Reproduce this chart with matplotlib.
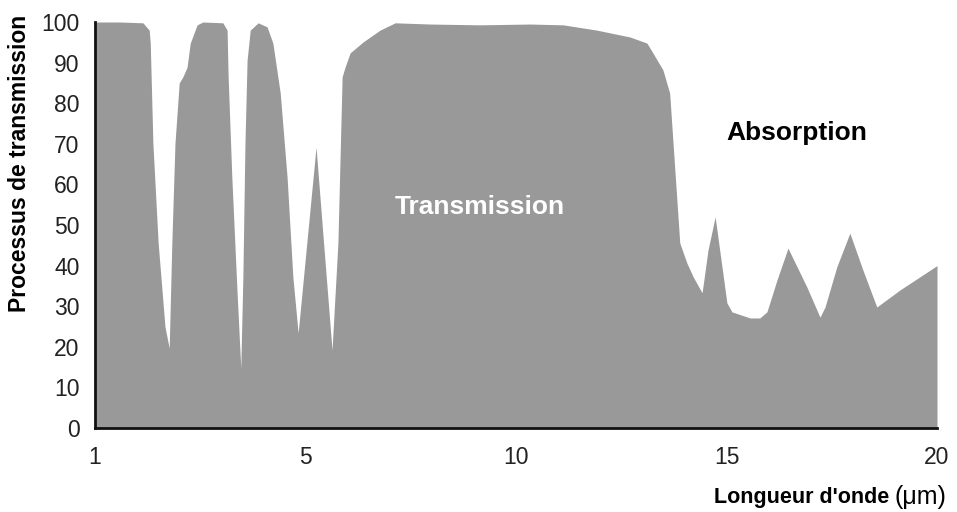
import matplotlib
matplotlib.use("Agg")
import matplotlib.pyplot as plt
import numpy as np

plt.rcParams['font.family'] = ['Liberation Sans', 'DejaVu Sans']

# longueur d'onde (um) et transmission (%)
wavelength = [1.00, 1.47, 1.91, 2.03, 2.05, 2.10, 2.20, 2.33, 2.41, 2.46,
              2.52, 2.60, 2.67, 2.75, 2.81, 2.94, 3.05, 3.43, 3.51, 3.53,
              3.60, 3.70, 3.77, 3.81, 3.85, 3.89, 3.95, 4.10, 4.27, 4.38,
              4.52, 4.65, 4.76, 4.86, 5.25, 5.63, 5.77, 5.87, 5.94, 6.06,
              6.37, 6.77, 7.13, 7.96, 9.14, 10.33, 11.12, 11.92, 12.71, 13.11,
              13.25, 13.49, 13.65, 13.73, 13.89, 14.06, 14.21, 14.42, 14.56, 14.73,
              14.87, 15.01, 15.13, 15.56, 15.79, 15.96, 16.20, 16.46, 16.91, 17.22,
              17.34, 17.62, 17.93, 18.24, 18.57, 19.12, 20.00]
transmission = [100, 100, 99.8, 98, 94.8, 70.2, 45.6, 24.9, 19.7, 45.6,
                70.2, 85.0, 86.5, 88.9, 94.8, 99.3, 100, 99.8, 98, 86.5,
                61.8, 33.3, 14.8, 37.2, 70.2, 90.6, 98, 99.8, 98.8, 94.8,
                82.5, 61.8, 37.2, 23.4, 69.2, 19.2, 45.6, 86.5, 88.9, 92.4,
                95.1, 98, 99.8, 99.5, 99.3, 99.5, 99.3, 98, 96.3, 94.8,
                92.4, 88.2, 82.5, 70.2, 45.6, 40.6, 37.2, 33.3, 43.8, 52.0,
                41.4, 30.8, 28.6, 27.1, 27.1, 28.6, 36.5, 44.3, 34.7, 27.3,
                29.8, 39.7, 48.0, 38.9, 29.8, 34.0, 40.0]

x_ticks = [1, 5, 10, 15, 20]
y_ticks = list(range(0, 101, 10))


# axe des abscisses : graduations equidistantes (1, 5, 10, 15, 20)
def fwd(x):
    x = np.asarray(x, dtype=float)
    return np.where(x <= 5, (x - 1) / 4, 1 + (x - 5) / 5)


def inv(p):
    p = np.asarray(p, dtype=float)
    return np.where(p <= 1, 1 + 4 * p, 5 + 5 * (p - 1))


fig = plt.figure(figsize=(9.57, 5.12), dpi=100)
ax = fig.add_axes([95 / 957, 1 - 428 / 512, (937 - 95) / 957, (428 - 22) / 512])

ax.set_xscale('function', functions=(fwd, inv))
ax.fill_between(wavelength, 0, transmission, color='#999999', linewidth=0)

ax.set_xlim(1, 20)
ax.set_ylim(0, 100)
ax.set_xticks(x_ticks)
ax.set_xticklabels([str(t) for t in x_ticks])
ax.set_yticks(y_ticks)
ax.minorticks_off()
ax.tick_params(length=0, labelsize=16.5, colors='#222222')
ax.tick_params(axis='x', pad=13)
ax.tick_params(axis='y', pad=11)

for s in ['top', 'right']:
    ax.spines[s].set_visible(False)
for s in ['left', 'bottom']:
    ax.spines[s].set_linewidth(2)
    ax.spines[s].set_color('#111111')

fig.text(480 / 957, 1 - 207 / 512, 'Transmission', color='white',
         fontsize=19, fontweight='bold', ha='center', va='center')
fig.text(797 / 957, 1 - 133 / 512, 'Absorption', color='black',
         fontsize=19, fontweight='bold', ha='center', va='center')

fig.text(20 / 957, 1 - 163 / 512, 'Processus de transmission', rotation=90,
         fontsize=16.5, fontweight='bold', ha='center', va='center')
fig.text(889 / 957, 1 - 497 / 512, "Longueur d'onde", fontsize=15.5,
         fontweight='bold', ha='right', va='center')
fig.text(894 / 957, 1 - 497 / 512, '(μm)', fontsize=18,
         ha='left', va='center')

fig.savefig('out.png', dpi=100)
